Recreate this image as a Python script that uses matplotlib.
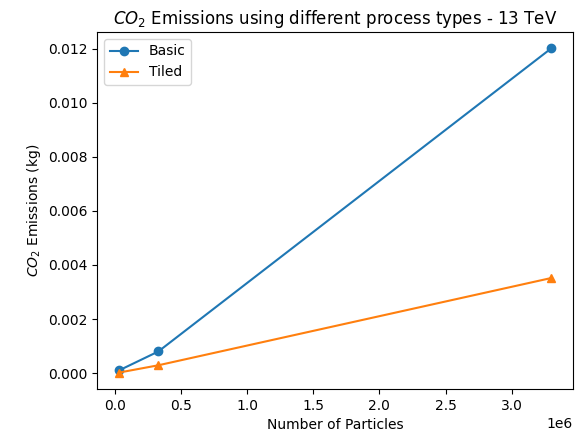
import matplotlib.pyplot as plt

# number of particles simulated per run
n_particles = [33000, 330000, 3300000]

# emissions (kg CO2) for each process type
basic_emissions = [0.0001, 0.0008, 0.01202]
tiled_emissions = [0.00002, 0.00029, 0.00352]

fig, ax = plt.subplots(figsize=(5.83, 4.32), dpi=100)
fig.subplots_adjust(left=0.167, right=0.983, top=0.926, bottom=0.1)

ax.plot(n_particles, basic_emissions, marker='o', label='Basic')
ax.plot(n_particles, tiled_emissions, marker='^', label='Tiled')

ax.set_title(r"$CO_2$ Emissions using different process types - 13 TeV")
ax.set_xlabel("Number of Particles")
ax.set_ylabel(r"$CO_2$ Emissions (kg)")
ax.legend(loc='upper left')

plt.savefig("out.png")
